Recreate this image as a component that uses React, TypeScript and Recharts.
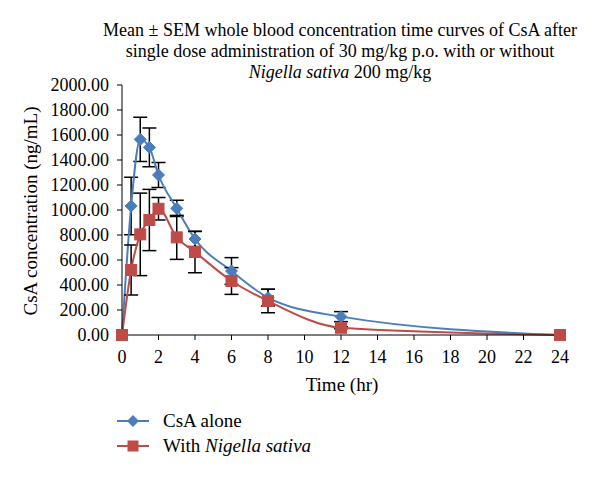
import React from 'react';
import { LineChart, Line, XAxis, YAxis, ErrorBar } from 'recharts';

// sampling times (hr)
const times = [0, 0.5, 1, 1.5, 2, 3, 4, 6, 8, 12, 24];
// mean whole blood CsA (ng/mL)
const csaAlone = [0, 1032, 1565, 1501, 1280, 1013, 768, 512, 299, 147, 0];
const csaAloneSem = [0, 230, 177, 155, 100, 65, 60, 107, 67, 40, 0];
const withNigella = [0, 520, 805, 920, 1010, 781, 664, 432, 272, 58, 0];
const withNigellaSem = [0, 200, 330, 245, 90, 176, 166, 107, 94, 8, 0];

const xTicks = [0, 2, 4, 6, 8, 10, 12, 14, 16, 18, 20, 22, 24];
const yTicks = [0, 200, 400, 600, 800, 1000, 1200, 1400, 1600, 1800, 2000];

const BLUE = '#4A7EBB';
const RED = '#BE4B48';
const FONT = '"Liberation Serif", "DejaVu Serif", serif';

const data = times.map((t, i) => ({
  time: t,
  alone: csaAlone[i],
  aloneErr: csaAloneSem[i],
  nigella: withNigella[i],
  nigellaErr: withNigellaSem[i],
}));

function Diamond(props: any) {
  const { cx, cy, index } = props;
  if (cx == null || cy == null) return <g key={`d-${index}`} />;
  const r = 6;
  return (
    <path
      key={`d-${index}`}
      d={`M${cx},${cy - r}L${cx + r},${cy}L${cx},${cy + r}L${cx - r},${cy}Z`}
      fill={BLUE}
      stroke={BLUE}
      strokeWidth={1}
    />
  );
}

function Square(props: any) {
  const { cx, cy, index } = props;
  if (cx == null || cy == null) return <g key={`s-${index}`} />;
  const s = 5.5;
  return (
    <rect key={`s-${index}`} x={cx - s} y={cy - s} width={s * 2} height={s * 2} fill={RED} stroke={RED} />
  );
}

function LegendRow({ color, marker, children }: { color: string; marker: 'diamond' | 'square'; children: React.ReactNode }) {
  return (
    <div style={{ display: 'flex', alignItems: 'center', height: 25 }}>
      <svg width={32} height={14} style={{ marginRight: 14 }}>
        <line x1={0} y1={7} x2={32} y2={7} stroke={color} strokeWidth={2} />
        {marker === 'diamond' ? (
          <path d="M16,1L22,7L16,13L10,7Z" fill={color} />
        ) : (
          <rect x={10.5} y={1.5} width={11} height={11} fill={color} />
        )}
      </svg>
      <span>{children}</span>
    </div>
  );
}

export default function App() {
  return (
    <div style={{ position: 'absolute', left: 0, top: 0, width: 600, height: 477, background: '#fff', fontFamily: FONT, color: '#000' }}>
      <div style={{ position: 'absolute', left: 40, top: 20, width: 600, textAlign: 'center', fontSize: 18, lineHeight: '21px' }}>
        Mean ± SEM whole blood concentration time curves of CsA after
        <br />
        single dose administration of 30 mg/kg p.o. with or without
        <br />
        <i>Nigella sativa</i> 200 mg/kg
      </div>

      <LineChart width={600} height={477} data={data} margin={{ top: 85, right: 40, bottom: 112, left: 0 }}>
        <XAxis
          dataKey="time"
          type="number"
          domain={[0, 24]}
          ticks={xTicks}
          interval={0}
          height={30}
          tickSize={5}
          tickMargin={10}
          axisLine={{ stroke: '#000' }}
          tickLine={{ stroke: '#000' }}
          tick={{ fill: '#000', fontSize: 18, fontFamily: FONT }}
        />
        <YAxis
          type="number"
          domain={[0, 2000]}
          ticks={yTicks}
          interval={0}
          width={122}
          tickSize={5}
          tickMargin={8}
          tickFormatter={(v: number) => v.toFixed(2)}
          axisLine={{ stroke: '#000' }}
          tickLine={{ stroke: '#000' }}
          tick={{ fill: '#000', fontSize: 18, fontFamily: FONT }}
        />
        <Line
          type="monotone"
          dataKey="alone"
          stroke={BLUE}
          strokeWidth={2}
          dot={Diamond}
          activeDot={false}
          isAnimationActive={false}
        >
          <ErrorBar dataKey="aloneErr" direction="y" width={7} stroke="#000" strokeWidth={1.5} isAnimationActive={false} />
        </Line>
        <Line
          type="monotone"
          dataKey="nigella"
          stroke={RED}
          strokeWidth={2}
          dot={Square}
          activeDot={false}
          isAnimationActive={false}
        >
          <ErrorBar dataKey="nigellaErr" direction="y" width={7} stroke="#000" strokeWidth={1.5} isAnimationActive={false} />
        </Line>
      </LineChart>

      <div
        style={{
          position: 'absolute',
          left: 31 - 150,
          top: 211 - 12,
          width: 300,
          height: 24,
          lineHeight: '24px',
          textAlign: 'center',
          fontSize: 19,
          transform: 'rotate(-90deg)',
        }}
      >
        CsA concentration (ng/mL)
      </div>

      <div style={{ position: 'absolute', left: 242, top: 374, width: 200, textAlign: 'center', fontSize: 19, lineHeight: '22px' }}>
        Time (hr)
      </div>

      <div style={{ position: 'absolute', left: 117, top: 408, fontSize: 19 }}>
        <LegendRow color={BLUE} marker="diamond">CsA alone</LegendRow>
        <LegendRow color={RED} marker="square">
          With <i>Nigella sativa</i>
        </LegendRow>
      </div>
    </div>
  );
}
